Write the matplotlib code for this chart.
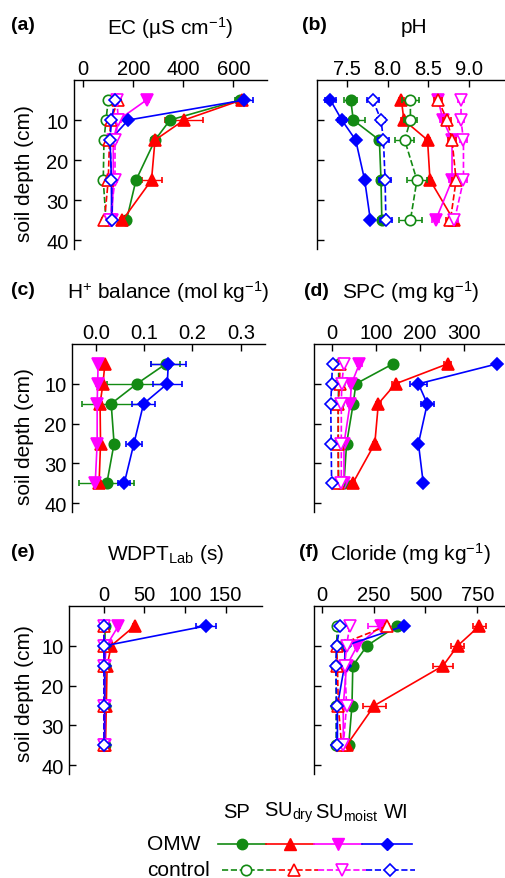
import matplotlib
matplotlib.use("Agg")
import matplotlib.pyplot as plt
from matplotlib.lines import Line2D

plt.rcParams['font.family'] = ['Liberation Sans', 'DejaVu Sans']
plt.rcParams['mathtext.fontset'] = 'custom'
plt.rcParams['mathtext.rm'] = 'Liberation Sans'
plt.rcParams['mathtext.it'] = 'Liberation Sans'

DEPTH = [5, 10, 15, 25, 35]
SITES = ["SP", "SU$_\\mathrm{dry}$", "SU$_\\mathrm{moist}$", "WI"]
COLORS = ['#138a13', '#ff0000', '#ff00ff', '#0000ff']
MARKERS = ['o', '^', 'v', 'D']

# rows: SP, SUdry, SUmoist, WI
EC_OMW = [[627, 347, 287, 211, 173], [633, 403, 287, 273, 157],
          [253, 140, 120, 120, 115], [644, 180, 107, 113, 113]]
EC_OMW_ERR = [[20, 15, 10, 10, 8], [20, 75, 15, 40, 10],
              [10, 10, 8, 8, 8], [35, 10, 5, 5, 5]]
EC_CTRL = [[100, 91, 83, 80, 91], [140, 110, 105, 100, 85],
           [135, 140, 127, 127, 107], [127, 113, 107, 113, 116]]
EC_CTRL_ERR = [[8, 8, 8, 8, 8], [10, 8, 8, 8, 8],
               [8, 8, 8, 8, 8], [8, 8, 6, 8, 8]]

PH_OMW = [[7.55, 7.58, 7.90, 7.92, 7.93], [8.17, 8.20, 8.49, 8.52, 8.81],
          [8.62, 8.68, 8.79, 8.79, 8.59], [7.30, 7.44, 7.61, 7.72, 7.79]]
PH_OMW_ERR = [[0.08, 0.15, 0.05, 0.05, 0.05], [0.03, 0.03, 0.03, 0.03, 0.03],
              [0.04, 0.04, 0.04, 0.04, 0.04], [0.07, 0.05, 0.03, 0.03, 0.03]]
PH_CTRL = [[8.28, 8.28, 8.21, 8.36, 8.28], [8.62, 8.73, 8.79, 8.84, 8.77],
           [8.90, 8.90, 8.93, 8.93, 8.82], [7.82, 7.92, 7.95, 7.97, 7.98]]
PH_CTRL_ERR = [[0.1, 0.08, 0.12, 0.12, 0.14], [0.05, 0.05, 0.05, 0.05, 0.05],
               [0.04, 0.04, 0.04, 0.04, 0.04], [0.07, 0.05, 0.07, 0.07, 0.07]]

HB_OMW = [[0.145, 0.085, 0.032, 0.038, 0.023], [0.019, 0.015, 0.009, 0.010, 0.007],
          [0.005, 0.004, 0.003, 0.003, -0.001], [0.150, 0.148, 0.099, 0.079, 0.059]]
HB_OMW_ERR = [[0.03, 0.062, 0.06, 0.005, 0.057], [0.003, 0.003, 0.003, 0.003, 0.003],
              [0.003, 0.003, 0.003, 0.003, 0.003], [0.036, 0.03, 0.024, 0.017, 0.012]]

SPC_OMW = [[139, 55, 49, 34, 28], [263, 145, 106, 98, 48],
           [63, 45, 42, 28, 28], [375, 197, 217, 197, 208]]
SPC_OMW_ERR = [[5, 5, 5, 5, 5], [8, 8, 5, 5, 5],
               [5, 5, 5, 5, 5], [5, 20, 15, 5, 5]]
SPC_CTRL = [[16, 16, 15, 15, 16], [19, 18, 15, 15, 15],
            [28, 23, 22, 22, 22], [2, 0, -2, -1, 0]]
SPC_CTRL_ERR = [[3, 3, 3, 3, 3], [3, 3, 3, 3, 3],
                [3, 3, 3, 3, 3], [4, 4, 4, 4, 3]]

WDPT_OMW = [[1, 1, 1, 1, 1], [38, 9, 4, 3, 2],
            [18, 3, 1, 1, 1], [126, 1, 1, 1, 1]]
WDPT_OMW_ERR = [[1, 1, 1, 1, 1], [2, 2, 1, 1, 1],
                [2, 1, 1, 1, 1], [12, 1, 1, 1, 1]]
WDPT_CTRL = [[0, 0, 0, 0, 0], [0, 0, 0, 0, 0],
             [0, 0, 0, 0, 0], [0, 0, 0, 0, 0]]
WDPT_CTRL_ERR = [[0.5, 0.5, 0.5, 0.5, 0.5], [0.5, 0.5, 0.5, 0.5, 0.5],
                 [0.5, 0.5, 0.5, 0.5, 0.5], [0.5, 0.5, 0.5, 0.5, 0.5]]

CL_OMW = [[363, 218, 150, 146, 130], [760, 655, 585, 254, 120],
          [285, 172, 120, 104, 104], [398, 113, 110, 76, 76]]
CL_OMW_ERR = [[10, 10, 10, 8, 8], [32, 32, 48, 56, 10],
              [60, 10, 8, 8, 8], [10, 8, 8, 8, 8]]
CL_CTRL = [[75, 72, 70, 70, 70], [315, 72, 76, 80, 96],
           [135, 120, 111, 120, 104], [88, 72, 68, 72, 72]]
CL_CTRL_ERR = [[8, 8, 8, 8, 8], [10, 8, 8, 8, 8],
               [8, 8, 8, 8, 8], [12, 12, 12, 8, 12]]

W, H = 506, 879
FS = 15
TICK_FS = 14.5
fig = plt.figure(figsize=(W / 100, H / 100), dpi=100)


def add_ax(left, top, right, bottom):
    return fig.add_axes([left / W, 1 - bottom / H, (right - left) / W, (bottom - top) / H])


def msize(m):
    return {'D': 6.3, 'o': 7.5, '^': 8.5, 'v': 8.5}[m]


def draw_series(ax, vals, errs, control):
    for i in range(4):
        ax.errorbar(vals[i], DEPTH, xerr=errs[i], color=COLORS[i],
                    marker=MARKERS[i], ms=msize(MARKERS[i]), lw=1.2,
                    ls='--' if control else '-',
                    mfc='white' if control else COLORS[i],
                    mec=COLORS[i], mew=1.2, elinewidth=1.0, capsize=2.2,
                    capthick=1.0, clip_on=False, zorder=3 if control else 2)


def style(ax, xlim, xticks, xlabels, title, show_y):
    ax.set_xlim(*xlim)
    ax.set_ylim(42.2, 0)
    ax.xaxis.tick_top()
    ax.set_xticks(xticks)
    ax.set_xticklabels(xlabels)
    ax.set_yticks([10, 20, 30, 40])
    if not show_y:
        ax.set_yticklabels([])
    ax.tick_params(axis='both', direction='in', length=5, width=1.0,
                   labelsize=TICK_FS)
    ax.tick_params(axis='x', pad=1.5)
    ax.tick_params(axis='y', pad=4)
    for s in ['right', 'bottom']:
        ax.spines[s].set_visible(False)
    for s in ['left', 'top']:
        ax.spines[s].set_linewidth(1.0)
    ax.text(0.5, 1.0 + 53 / 169, title, transform=ax.transAxes,
            ha='center', va='center', fontsize=FS)


# (a) EC
ax = add_ax(74, 81, 267, 250)
draw_series(ax, EC_OMW, EC_OMW_ERR, False)
draw_series(ax, EC_CTRL, EC_CTRL_ERR, True)
style(ax, (-37, 735), [0, 200, 400, 600], ['0', '200', '400', '600'],
      "EC (µS cm$^{-1}$)", True)

# (b) pH
ax = add_ax(317, 81, 510, 250)
draw_series(ax, PH_OMW, PH_OMW_ERR, False)
draw_series(ax, PH_CTRL, PH_CTRL_ERR, True)
style(ax, (7.136, 9.5), [7.5, 8.0, 8.5, 9.0], ['7.5', '8.0', '8.5', '9.0'],
      "pH", False)

# (c) H+ balance
ax = add_ax(72, 345, 265, 513)
draw_series(ax, HB_OMW, HB_OMW_ERR, False)
style(ax, (-0.049, 0.35), [0.0, 0.1, 0.2, 0.3], ['0.0', '0.1', '0.2', '0.3'],
      "H$^{+}$ balance (mol kg$^{-1}$)", True)

# (d) SPC
ax = add_ax(314, 345, 507, 513)
draw_series(ax, SPC_OMW, SPC_OMW_ERR, False)
draw_series(ax, SPC_CTRL, SPC_CTRL_ERR, True)
style(ax, (-40, 398), [0, 100, 200, 300], ['0', '100', '200', '300'],
      "SPC (mg kg$^{-1}$)", False)

# (e) WDPT
ax = add_ax(69, 607, 262, 775)
draw_series(ax, WDPT_OMW, WDPT_OMW_ERR, False)
draw_series(ax, WDPT_CTRL, WDPT_CTRL_ERR, True)
style(ax, (-43, 195), [0, 50, 100, 150], ['0', '50', '100', '150'],
      "WDPT$_\\mathrm{Lab}$ (s)", True)

# (f) Chloride
ax = add_ax(314, 607, 507, 775)
draw_series(ax, CL_OMW, CL_OMW_ERR, False)
draw_series(ax, CL_CTRL, CL_CTRL_ERR, True)
style(ax, (-37, 893), [0, 250, 500, 750], ['0', '250', '500', '750'],
      "Cloride (mg kg$^{-1}$)", False)

# overlay in pixel coordinates for panel letters, y labels and the legend
ov = fig.add_axes([0, 0, 1, 1], zorder=10)
ov.set_xlim(0, W)
ov.set_ylim(H, 0)
ov.axis('off')

for letter, x, y in [("(a)", 11, 26), ("(b)", 302, 26), ("(c)", 11, 291),
                     ("(d)", 304, 292), ("(e)", 11, 553), ("(f)", 299, 553)]:
    ov.text(x, y, letter, fontsize=14, fontweight='bold', ha='left', va='center')

for yc in [174, 437, 694]:
    ov.text(25, yc, "soil depth (cm)", fontsize=FS, rotation=90,
            ha='center', va='center')

# legend
head_x = [223, 264, 315, 384]
for lab, x in zip(SITES, head_x):
    ov.text(x, 813, lab, fontsize=14.5, ha='left', va='center')
ov.text(147, 845, "OMW", fontsize=FS, ha='left', va='center')
ov.text(147, 871, "control", fontsize=FS, ha='left', va='center')

seg_omw = [218, 266, 314, 362, 412]
seg_ctl = [222, 270, 318, 366, 415]
for i in range(4):
    ov.add_line(Line2D([seg_omw[i], seg_omw[i + 1]], [845, 845], color=COLORS[i], lw=1.2))
    ov.add_line(Line2D([seg_ctl[i], seg_ctl[i + 1]], [871, 871], color=COLORS[i], lw=1.2, ls='--'))
    ms = msize(MARKERS[i])
    ov.plot([(seg_omw[i] + seg_omw[i + 1]) / 2], [845], marker=MARKERS[i], ms=ms,
            color=COLORS[i], mec=COLORS[i])
    ov.plot([(seg_ctl[i] + seg_ctl[i + 1]) / 2], [871], marker=MARKERS[i], ms=ms,
            color=COLORS[i], mfc='white', mec=COLORS[i], mew=1.2)

fig.savefig("out.png", dpi=100)
